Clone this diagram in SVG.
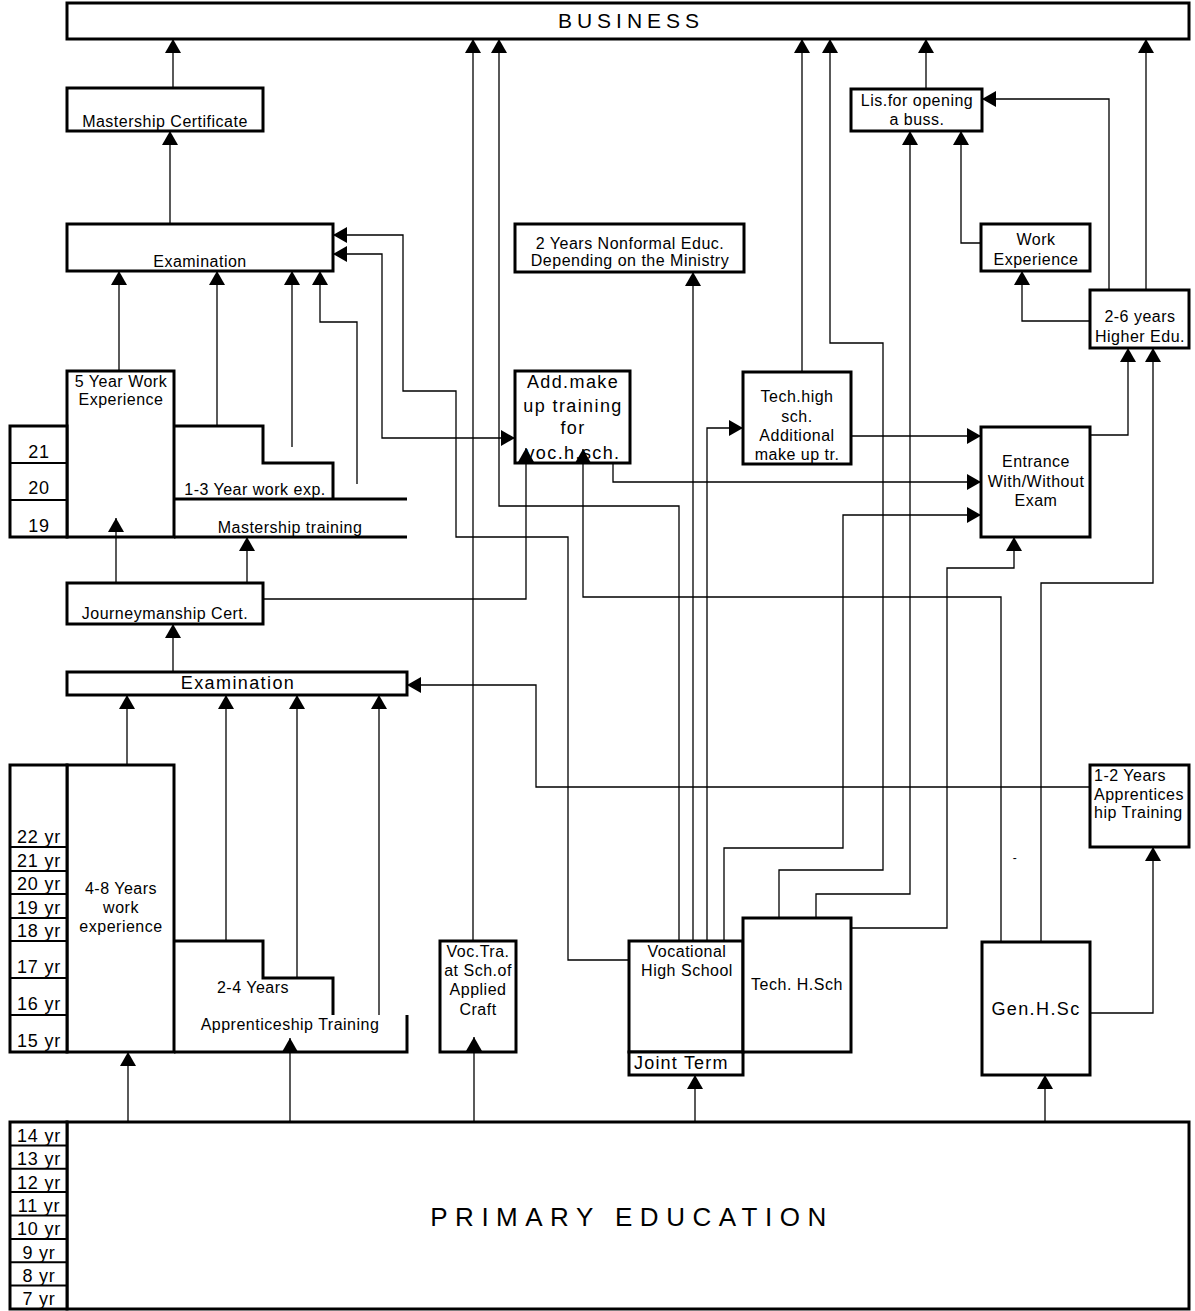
<svg xmlns="http://www.w3.org/2000/svg" width="1195" height="1311" viewBox="0 0 1195 1311">
<defs>
<marker id="ah" viewBox="0 0 14 16" refX="14" refY="8" markerWidth="14" markerHeight="16" markerUnits="userSpaceOnUse" orient="auto-start-reverse"><path d="M0,0 L14,8 L0,16 z" fill="#000"/></marker>
<style>
.box{fill:#fff;stroke:#000;stroke-width:3}
.edge{fill:none;stroke:#000;stroke-width:3}
.div{fill:none;stroke:#000;stroke-width:2}
.t{font-family:"Liberation Sans",Arial,sans-serif;font-size:16px;letter-spacing:0.5px;fill:#000}
.c{text-anchor:middle}
.big{font-size:18px;letter-spacing:1.4px}
.age{font-size:18px;letter-spacing:0.8px;text-anchor:middle}
.conn{fill:none;stroke:#000;stroke-width:1.3;marker-end:url(#ah)}
</style>
</defs>
<rect width="1195" height="1311" fill="#fff"/>

<g id="business">
<rect class="box" x="67" y="3" width="1122" height="36"/>
<text class="t c" x="631" y="28" style="font-size:21px;letter-spacing:5px">BUSINESS</text>
</g>

<g id="mastership-certificate">
<rect class="box" x="67" y="88" width="196" height="43"/>
<text class="t c" x="165" y="127">Mastership Certificate</text>
</g>

<g id="examination-upper">
<rect class="box" x="67" y="224" width="266" height="47"/>
<text class="t c" x="200" y="267">Examination</text>
</g>

<g id="nonformal">
<rect class="box" x="515" y="224" width="229" height="48"/>
<text class="t c" x="630" y="249">2 Years Nonformal Educ.</text>
<text class="t c" x="630" y="266">Depending on the Ministry</text>
</g>

<g id="licence">
<rect class="box" x="851" y="89" width="131" height="42"/>
<text class="t c" x="917" y="106">Lis.for opening</text>
<text class="t c" x="917" y="125">a buss.</text>
</g>

<g id="work-experience">
<rect class="box" x="981" y="224" width="109" height="47"/>
<text class="t c" x="1036" y="245">Work</text>
<text class="t c" x="1036" y="265">Experience</text>
</g>

<g id="higher-education">
<rect class="box" x="1090" y="290" width="99" height="58"/>
<text class="t c" x="1140" y="322">2-6 years</text>
<text class="t c" x="1140" y="342">Higher Edu.</text>
</g>

<g id="five-year-work">
<rect class="box" x="67" y="371" width="107" height="166"/>
<text class="t c" x="121" y="387">5 Year Work</text>
<text class="t c" x="121" y="405">Experience</text>
</g>

<g id="ages-19-21">
<rect class="box" x="10" y="426" width="57" height="111"/>
<path class="div" d="M10,463 H67 M10,500 H67"/>
<text class="t age" x="39" y="458">21</text>
<text class="t age" x="39" y="494">20</text>
<text class="t age" x="39" y="532">19</text>
</g>

<g id="mastership-training">
<path class="edge" d="M174,426 H263 V463 H333 V499 M174,499 H407 M174,537 H407"/>
<text class="t c" x="255" y="495">1-3 Year work exp.</text>
<text class="t c" x="290" y="533">Mastership training</text>
</g>

<g id="journeymanship">
<rect class="box" x="67" y="583" width="196" height="41"/>
<text class="t c" x="165" y="619">Journeymanship Cert.</text>
</g>

<g id="add-makeup">
<rect class="box" x="515" y="371" width="115" height="92"/>
<text class="t c big" x="573" y="388">Add.make</text>
<text class="t c big" x="573" y="412">up training</text>
<text class="t c big" x="573" y="434">for</text>
<text class="t c big" x="573" y="459">voc.h.sch.</text>
</g>

<g id="tech-makeup">
<rect class="box" x="743" y="372" width="108" height="92"/>
<text class="t c" x="797" y="402">Tech.high</text>
<text class="t c" x="797" y="422">sch.</text>
<text class="t c" x="797" y="441">Additional</text>
<text class="t c" x="797" y="460">make up tr.</text>
</g>

<g id="entrance">
<rect class="box" x="981" y="427" width="109" height="110"/>
<text class="t c" x="1036" y="467">Entrance</text>
<text class="t c" x="1036" y="487">With/Without</text>
<text class="t c" x="1036" y="506">Exam</text>
</g>

<g id="examination-lower">
<rect class="box" x="67" y="672" width="340" height="23"/>
<text class="t c big" x="238" y="689">Examination</text>
</g>

<g id="work-4-8">
<rect class="box" x="67" y="765" width="107" height="287"/>
<text class="t c" x="121" y="894">4-8 Years</text>
<text class="t c" x="121" y="913">work</text>
<text class="t c" x="121" y="932">experience</text>
</g>

<g id="ages-15-22">
<rect class="box" x="10" y="765" width="57" height="287"/>
<path class="div" d="M10,847 H67 M10,871 H67 M10,894 H67 M10,918 H67 M10,941 H67 M10,978 H67 M10,1015 H67"/>
<text class="t age" x="39" y="843">22 yr</text>
<text class="t age" x="39" y="867">21 yr</text>
<text class="t age" x="39" y="890">20 yr</text>
<text class="t age" x="39" y="914">19 yr</text>
<text class="t age" x="39" y="937">18 yr</text>
<text class="t age" x="39" y="973">17 yr</text>
<text class="t age" x="39" y="1010">16 yr</text>
<text class="t age" x="39" y="1047">15 yr</text>
</g>

<g id="apprenticeship">
<path class="edge" d="M174,941 H263 V978 H333 V1015 M174,1052 H407 V1015"/>
<text class="t c" x="253" y="993">2-4 Years</text>
<text class="t c" x="290" y="1030">Apprenticeship Training</text>
</g>

<g id="voc-training">
<rect class="box" x="440" y="941" width="76" height="111"/>
<text class="t c" x="478" y="957">Voc.Tra.</text>
<text class="t c" x="478" y="976">at Sch.of</text>
<text class="t c" x="478" y="995">Applied</text>
<text class="t c" x="478" y="1015">Craft</text>
</g>

<g id="vocational-high-school">
<rect class="box" x="629" y="941" width="114" height="111"/>
<rect class="box" x="629" y="1052" width="114" height="23"/>
<text class="t c" x="687" y="957">Vocational</text>
<text class="t c" x="687" y="976">High School</text>
<text class="t" x="634" y="1069" style="font-size:18px;letter-spacing:1.2px">Joint Term</text>
</g>

<g id="tech-high-school">
<rect class="box" x="743" y="918" width="108" height="134"/>
<text class="t c" x="797" y="990">Tech. H.Sch</text>
</g>

<g id="general-high-school">
<rect class="box" x="982" y="942" width="108" height="133"/>
<text class="t c big" x="1036" y="1015">Gen.H.Sc</text>
</g>

<g id="apprenticeship-1-2">
<rect class="box" x="1090" y="765" width="99" height="82"/>
<text class="t" x="1094" y="781">1-2 Years</text>
<text class="t" x="1094" y="800">Apprentices</text>
<text class="t" x="1094" y="818">hip Training</text>
</g>

<g id="dash">
<text class="t c" x="1015" y="862" style="font-size:12px">-</text>
</g>

<g id="primary">
<rect class="box" x="67" y="1122" width="1122" height="187"/>
<text class="t c" x="632" y="1226" style="font-size:26px;letter-spacing:7.5px">PRIMARY EDUCATION</text>
</g>

<g id="ages-7-14">
<rect class="box" x="10" y="1122" width="57" height="187"/>
<path class="div" d="M10,1145.4 H67 M10,1168.8 H67 M10,1192.1 H67 M10,1215.5 H67 M10,1238.9 H67 M10,1262.3 H67 M10,1285.6 H67"/>
<text class="t age" x="39" y="1142">14 yr</text>
<text class="t age" x="39" y="1165">13 yr</text>
<text class="t age" x="39" y="1189">12 yr</text>
<text class="t age" x="39" y="1212">11 yr</text>
<text class="t age" x="39" y="1235">10 yr</text>
<text class="t age" x="39" y="1259">9 yr</text>
<text class="t age" x="39" y="1282">8 yr</text>
<text class="t age" x="39" y="1305">7 yr</text>
</g>

<g id="connectors">
<path class="conn" d="M173,88 V39"/>
<path class="conn" d="M170,224 V131"/>
<path class="conn" d="M119,371 V271"/>
<path class="conn" d="M217,426 V271"/>
<path class="conn" d="M292,447 V271"/>
<path class="conn" d="M357,484 V322 H320 V271"/>
<path class="conn" d="M629,960 H568 V537 H456 V391 H403 V235 H333"/>
<path class="conn" style="marker-start:url(#ah)" d="M333,254 H382 V438 H515"/>
<path class="conn" d="M116,583 V518"/>
<path class="conn" d="M247,583 V537"/>
<path class="conn" d="M173,672 V624"/>
<path class="conn" d="M263,599 H526 V448"/>
<path class="conn" d="M1001,942 V597 H583 V449"/>
<path class="conn" d="M613,463 V482 H981"/>
<path class="conn" d="M851,436 H981"/>
<path class="conn" d="M724,941 V848 H843 V515 H981"/>
<path class="conn" d="M851,928 H947 V568 H1014 V537"/>
<path class="conn" d="M1090,435 H1128 V348"/>
<path class="conn" d="M1041,942 V583 H1153 V348"/>
<path class="conn" d="M1146,290 V39"/>
<path class="conn" d="M1109,290 V99 H982"/>
<path class="conn" d="M1090,321 H1022 V271"/>
<path class="conn" d="M981,243 H961 V131"/>
<path class="conn" d="M816,918 V894 H910 V131"/>
<path class="conn" d="M926,89 V39"/>
<path class="conn" d="M802,372 V39"/>
<path class="conn" d="M779,918 V870 H883 V343 H830 V39"/>
<path class="conn" d="M679,941 V506 H499 V39"/>
<path class="conn" d="M473,941 V39"/>
<path class="conn" d="M693,941 V272"/>
<path class="conn" d="M707,941 V428 H743"/>
<path class="conn" d="M1090,787 H536 V685 H407"/>
<path class="conn" d="M1090,1013 H1153 V847"/>
<path class="conn" d="M127,765 V695"/>
<path class="conn" d="M226,941 V695"/>
<path class="conn" d="M297,978 V695"/>
<path class="conn" d="M379,1015 V695"/>
<path class="conn" d="M128,1122 V1052"/>
<path class="conn" d="M290,1122 V1038"/>
<path class="conn" d="M474,1122 V1037"/>
<path class="conn" d="M695,1122 V1075"/>
<path class="conn" d="M1045,1122 V1075"/>
</g>
</svg>
